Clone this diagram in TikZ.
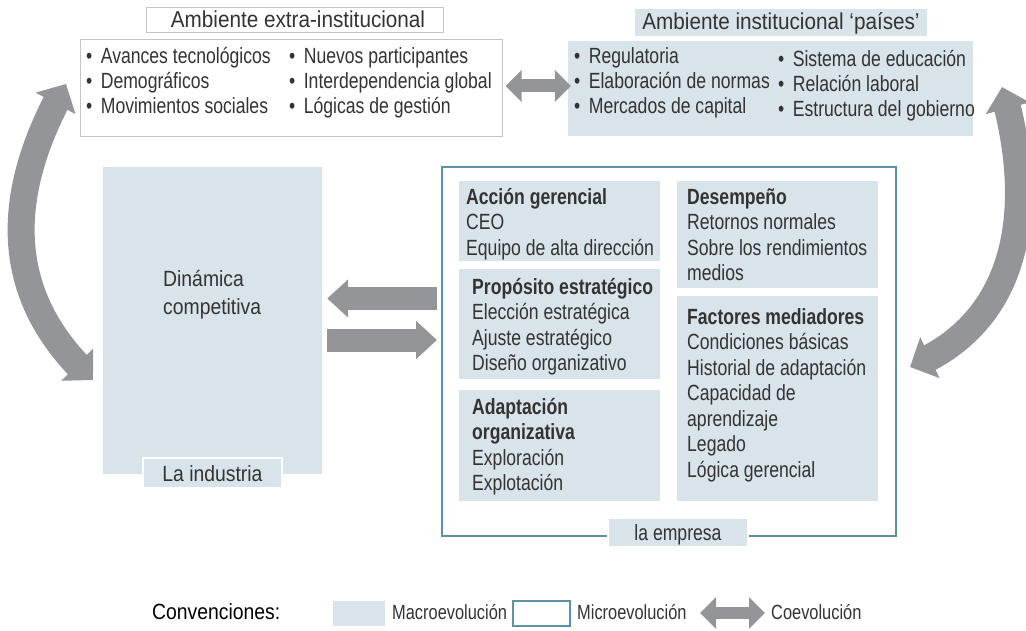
\documentclass[tikz,border=0pt]{standalone}
\usepackage{fontspec}
\setmainfont{Liberation Sans}[FakeStretch=0.80]
\newfontfamily\wfont{Liberation Sans}[FakeStretch=0.88]
\newfontfamily\titlefont{Liberation Sans}[FakeStretch=0.90]
\usetikzlibrary{arrows.meta,bending,calc,fit}
\definecolor{lblue}{HTML}{D9E3EA}
\definecolor{bblue}{HTML}{5E92AA}
\definecolor{agray}{HTML}{939598}
\definecolor{tcol}{HTML}{333333}
\definecolor{tgray}{HTML}{C4C4C4}
\newcommand\bul{\strut•\hspace{8.5pt}}
\begin{document}
\begin{tikzpicture}[x=1pt,y=-1pt,
  every node/.style={text=tcol},
  macro/.style={fill=lblue, draw=none, inner sep=0pt},
  whitebox/.style={fill=white, draw=tgray, line width=1pt, inner sep=0pt},
  micro/.style={draw=bblue, line width=2pt, inner sep=0pt},
  tag/.style={fill=lblue, draw=white, line width=1.5pt, inner sep=0pt},
  txt/.style={anchor=north west, inner sep=0pt, align=left, font=\fontsize{22}{25.5}\selectfont},
  btxt/.style={anchor=north west, inner sep=0pt, align=left, font=\fontsize{22}{25}\selectfont},
  ttl/.style={anchor=base, inner sep=0pt, font=\titlefont\fontsize{23}{25}\selectfont},
  lbl/.style={anchor=base, inner sep=0pt, font=\fontsize{22}{24}\selectfont},
  lblw/.style={anchor=base west, inner sep=0pt, font=\fontsize{20.5}{24}\selectfont},
  arc/.style={draw=agray, line width=27pt, {Triangle[length=22pt,width=44pt,flex]}-{Triangle[length=22pt,width=44pt,flex]}},
  harrow/.style={draw=agray, line width=23pt, -{Triangle[length=21pt,width=37pt]}},
  coarrow/.style={draw=agray, line width=13pt, {Triangle[length=16pt,width=31pt]}-{Triangle[length=16pt,width=31pt]}},
]
\useasboundingbox (0,0) rectangle (1026,631);

% ---------- top-left: extra-institutional environment ----------
\node[whitebox, fit={(146,8)(443,33)}] (extT) {};
\node[ttl] (extTl) at (298,28) {Ambiente extra-institucional};
\node[whitebox, fit={(80,40)(502,137)}] (ext) {};
\node[btxt] (e1) at (86,46) {\bul Avances tecnológicos\\\bul Demográficos\\\bul Movimientos sociales};
\node[btxt] (e2) at (289,46) {\bul Nuevos participantes\\\bul Interdependencia global\\\bul Lógicas de gestión};

% ---------- top-right: institutional environment ----------
\node[macro, fit={(635,9)(927,36)}] (instT) {};
\node[ttl] (instTl) at (781,30) {Ambiente institucional ‘países’};
\node[macro, fit={(568,41)(973,136)}] (inst) {};
\node[btxt] (i1) at (574,46) {\bul Regulatoria\\\bul Elaboración de normas\\\bul Mercados de capital};
\node[btxt] (i2) at (778,49) {\bul Sistema de educación\\\bul Relación laboral\\\bul Estructura del gobierno};

\draw[coarrow] ($(ext.east)+(3,-2.5)$) -- ($(inst.west)+(3,-2.5)$);

% ---------- industry ----------
\node[macro, fit={(103,167)(322,474)}] (ind) {};
\node[txt, font=\wfont\fontsize{22}{28}\selectfont] (dyn) at (163,267) {\strut Dinámica\\\strut competitiva};
\node[tag, fit={(143,458)(282,488)}] (indT) {};
\node[lbl, font=\wfont\fontsize{22}{24}\selectfont] (indTl) at (212.5,481) {La industria};

% ---------- firm ----------
\node[micro, fit={(442,167)(896,536)}] (emp) {};
\node[macro, fit={(459,181)(660,261)}] (acc) {};
\node[macro, fit={(459,269)(660,379)}] (pro) {};
\node[macro, fit={(459,390)(660,501)}] (ada) {};
\node[macro, fit={(677,181)(878,288)}] (des) {};
\node[macro, fit={(677,296)(878,501)}] (fac) {};
\node[txt] (accT) at (466,186) {\strut\textbf{Acción gerencial}\\\strut CEO\\\strut Equipo de alta dirección};
\node[txt] (proT) at (472,276) {\strut\textbf{Propósito estratégico}\\\strut Elección estratégica\\\strut Ajuste estratégico\\\strut Diseño organizativo};
\node[txt] (adaT) at (472,396) {\strut\textbf{Adaptación}\\\strut\textbf{organizativa}\\\strut Exploración\\\strut Explotación};
\node[txt] (desT) at (687,186) {\strut\textbf{Desempeño}\\\strut Retornos normales\\\strut Sobre los rendimientos\\\strut medios};
\node[txt] (facT) at (687,306) {\strut\textbf{Factores mediadores}\\\strut Condiciones básicas\\\strut Historial de adaptación\\\strut Capacidad de\\\strut aprendizaje\\\strut Legado\\\strut Lógica gerencial};
\node[tag, fit={(608,518)(748,547)}] (empT) {};
\node[lbl] (empTl) at (678,540) {la empresa};

% ---------- industry <-> firm ----------
\draw[harrow] ($(emp.west)+(-4,-53)$) -- ($(ind.east|-emp.west)+(5,-53)$);
\draw[harrow] ($(ind.east|-emp.west)+(5,-11.5)$) -- ($(emp.west)+(-4,-11.5)$);

% ---------- big coevolution arcs ----------
\coordinate (lt) at (66,84);
\coordinate (lb) at (93,380);
\draw[arc] (lt) .. controls (0,200) and (5,300) .. (lb);
\coordinate (rt) at (1002,87);
\coordinate (rb) at (910,367);
\draw[arc] (rt) .. controls (1035,200) and (1025,320) .. (rb);

% ---------- legend ----------
\node[lblw, text=black, font=\wfont\fontsize{22}{24}\selectfont] (conv) at (152,619) {Convenciones:};
\node[macro, fit={(333,601)(385,626)}] (lgMacro) {};
\node[lblw] (lgMacroT) at (392,619) {Macroevolución};
\node[micro, fit={(513,601)(570,626)}] (lgMicro) {};
\node[lblw] (lgMicroT) at (577,619) {Microevolución};
\coordinate (lgA1) at (700,613);
\coordinate (lgA2) at (765,613);
\draw[coarrow, line width=12pt] (lgA1) -- (lgA2);
\node[lblw] (lgCoT) at (771,619) {Coevolución};
\end{tikzpicture}
\end{document}
